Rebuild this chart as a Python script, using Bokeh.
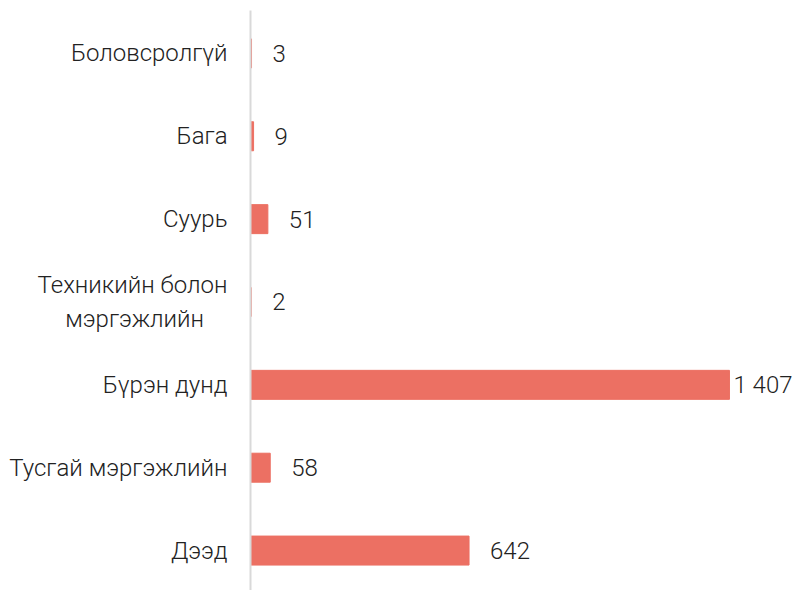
from bokeh.plotting import figure
from bokeh.models import Range1d, FixedTicker, ColumnDataSource
from bokeh.core.properties import value
from bokeh.embed import file_html
from bokeh.resources import INLINE

categories = ["Боловсролгүй", "Бага", "Суурь", "Техникийн болон\nмэргэжлийн",
              "Бүрэн дунд", "Тусгай мэргэжлийн", "Дээд"]
values = [3, 9, 51, 2, 1407, 58, 642]

FONT = "Roboto Light"
BAR = "#EC7063"
TXT = "#222222"

pos = list(range(len(categories)))
vmax = max(values)
labels = [f"{v:,}".replace(",", " ") for v in values]
offsets = [4 if v == vmax else 21 for v in values]

# center the second line of wrapped labels under the first (axis labels are right-aligned)
def centered(label):
    lines = label.split("\n")
    if len(lines) < 2:
        return label
    pad = "\u00a0" * 4
    return lines[0] + "\n" + lines[1] + pad

src = ColumnDataSource(dict(y=pos, v=values, lab=labels, off=offsets))

p = figure(width=795, height=590, output_backend="svg", toolbar_location=None,
           x_range=Range1d(0, 1601), y_range=Range1d(6.482, -0.518),
           min_border_left=250, min_border_right=0, min_border_top=10, min_border_bottom=0)

p.hbar(y="y", right="v", left=0, height=0.35, source=src, color=BAR)
p.text(x="v", y="y", text="lab", x_offset="off", source=src,
       text_align="left", text_baseline="middle", text_font=value(FONT),
       text_font_size="24px", text_color=TXT)

p.xaxis.visible = False
p.grid.visible = False
p.outline_line_color = None

ax = p.yaxis[0]
ax.ticker = FixedTicker(ticks=pos)
ax.major_label_overrides = {i: centered(c) for i, c in zip(pos, categories)}
ax.major_tick_line_color = None
ax.minor_tick_line_color = None
ax.major_label_standoff = 17
ax.major_label_text_font = FONT
ax.major_label_text_font_size = "24px"
ax.major_label_text_color = TXT
ax.axis_line_color = "#D9D9D9"
ax.axis_line_width = 2

open("out.html", "w").write(file_html(p, INLINE))
